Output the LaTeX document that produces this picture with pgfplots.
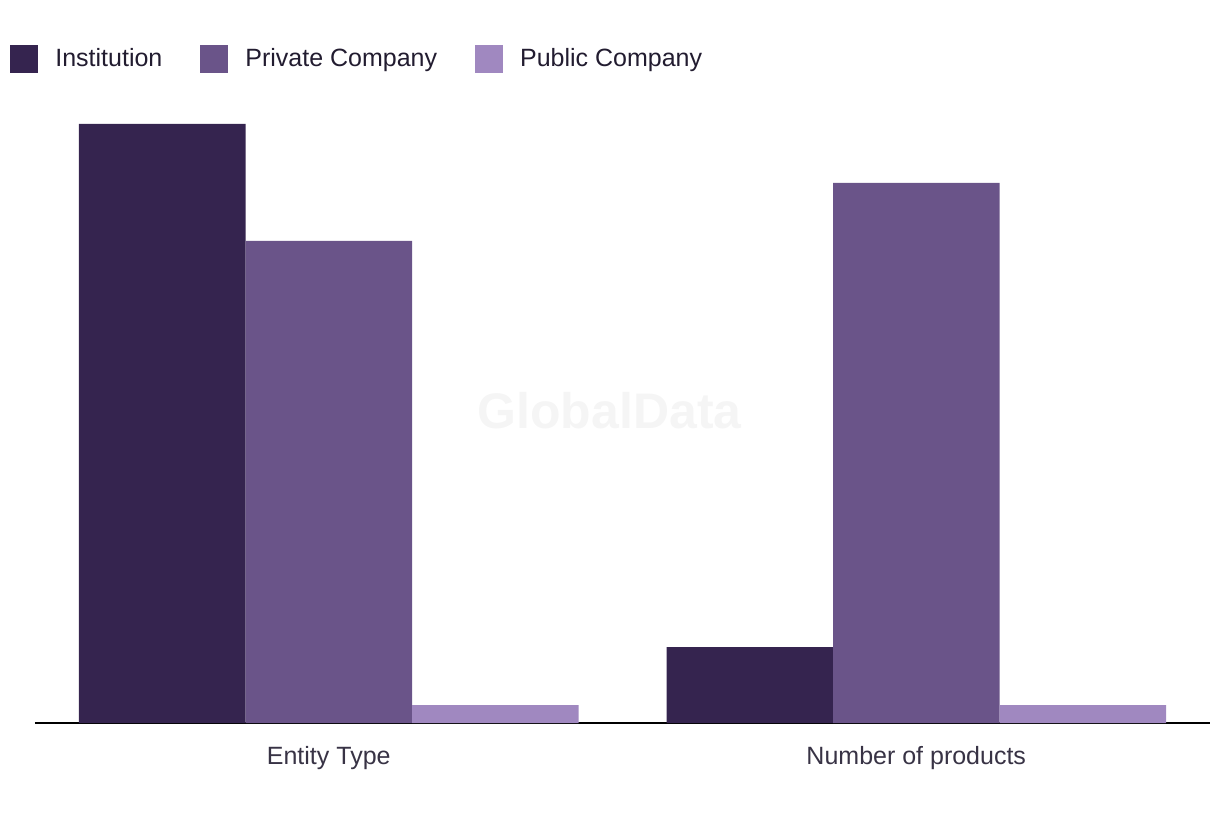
\documentclass[border=0pt]{standalone}
\usepackage{pgfplots}
\pgfplotsset{compat=1.18}
\usepackage{fontspec}
\setmainfont{Liberation Sans}
\definecolor{inst}{HTML}{35244F}
\definecolor{priv}{HTML}{6A5489}
\definecolor{publ}{HTML}{A088C0}
\definecolor{txt}{HTML}{221C30}
\begin{document}
\begin{tikzpicture}
\path[use as bounding box] (0,0) rectangle (610pt,410pt);
\begin{axis}[
    at={(17.5pt,48.5pt)}, anchor=south west,
    scale only axis,
    width=587.5pt, height=311.5pt,
    ybar=0pt, bar width=83.25pt,
    xmin=-0.5, xmax=1.5, ymin=0, ymax=623,
    axis x line=bottom, axis y line=none,
    x axis line style={-, line width=1pt, black},
    xtick={0,1}, xticklabels={Entity Type, Number of products},
    major tick length=0pt,
    xticklabel style={font=\fontsize{12.5pt}{15pt}\selectfont, text=txt!90, yshift=-8pt},
    legend columns=3,
    legend style={at={(-0.0213,1.0658)}, anchor=west, draw=none, fill=none, inner sep=0pt,
        font=\fontsize{12.5pt}{15pt}\selectfont, text=txt,
        /tikz/every even column/.append style={column sep=17pt}},
    legend image code/.code={\fill[#1] (0pt,-7pt) rectangle (14pt,7pt);
        \path (20.5pt,0pt);},
    legend cell align=left,
]
\node[font=\bfseries\fontsize{25pt}{30pt}\selectfont, text=black!4] at (rel axis cs:0.489,0.502) {GlobalData};
\addplot[fill=inst, draw=none] coordinates {(0,599) (1,76)};
\addplot[fill=priv, draw=none] coordinates {(0,482) (1,540)};
\addplot[fill=publ, draw=none] coordinates {(0,18) (1,18)};
\legend{Institution, Private Company, Public Company}
\end{axis}
\end{tikzpicture}
\end{document}
